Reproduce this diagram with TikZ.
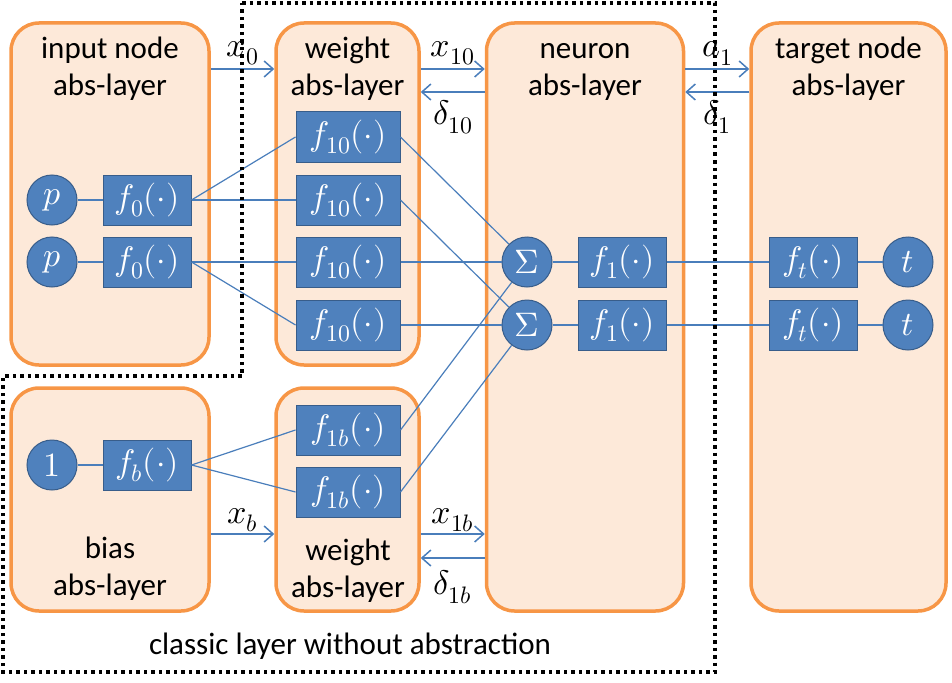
\documentclass[tikz,border=0pt]{standalone}
\usepackage{fontspec}
\usepackage{unicode-math}
\setmainfont{Carlito}
\setmathfont{Latin Modern Math}
\usepackage{tikz}
\usetikzlibrary{arrows.meta,positioning}
\definecolor{absFill}{HTML}{FDE9D9}
\definecolor{absEdge}{HTML}{F79646}
\definecolor{unitFill}{HTML}{4F81BD}
\definecolor{unitEdge}{HTML}{385D8A}
\definecolor{wireBlue}{HTML}{4A7EBB}

\begin{document}
\begin{tikzpicture}[x=1pt, y=-1pt,
    node distance=25pt,
    absbox/.style={draw=absEdge, fill=absFill, line width=3.5pt,
                   rounded corners=28pt, inner sep=0pt},
    abstitle/.style={font=\fontsize{31}{37}\selectfont, align=center},
    unitbox/.style={draw=unitEdge, fill=unitFill, text=white, line width=1pt,
                    minimum height=50pt, inner sep=0pt,
                    font=\fontsize{34}{40}\selectfont},
    fbox/.style={unitbox, minimum width=88pt},
    wbox/.style={unitbox, minimum width=104pt},
    unitcirc/.style={unitbox, circle, minimum size=50pt},
    link/.style={draw=wireBlue, line width=1.2pt},
    arr/.style={link, line width=1.5pt, -{Straight Barb[length=9pt,width=16pt]}},
    lbl/.style={font=\fontsize{34}{40}\selectfont, inner sep=0pt}]

    \useasboundingbox (0,0) rectangle (952,682);

    % abstraction layers
    \node[absbox, minimum width=198pt, minimum height=342pt] (inabs) at (110,194) {};
    \node[absbox, minimum width=143pt, minimum height=342pt] (wabs) at (347.5,194) {};
    \node[absbox, minimum width=197pt, minimum height=588pt] (nabs) at (585,317) {};
    \node[absbox, minimum width=195pt, minimum height=588pt] (tabs) at (848.5,317) {};
    \node[absbox, minimum width=198pt, minimum height=223pt] (babs) at (110,499.5) {};
    \node[absbox, minimum width=143pt, minimum height=223pt] (wbabs) at (347.5,499.5) {};

    \node[abstitle] (intitle) at (110,69) {input node\\abs-layer};
    \node[abstitle] (wtitle) at (347.5,69) {weight\\abs-layer};
    \node[abstitle] (ntitle) at (585,69) {\vphantom{dg}neuron\\abs-layer};
    \node[abstitle] (ttitle) at (848.5,69) {target node\\abs-layer};
    \node[abstitle] (btitle) at (110,569) {\vphantom{dg}bias\\abs-layer};
    \node[abstitle] (wbtitle) at (348,571) {weight\\abs-layer};
    \node[abstitle] (classic) at (350,646) {classic layer without abstraction};

    % units
    \node[unitcirc] (p1) at (52,200) {$p$};
    \node[fbox, right=of p1] (f0a) {$f_0(\cdot)$};
    \node[unitcirc] (p2) at (52,262) {$p$};
    \node[fbox, right=of p2] (f0b) {$f_0(\cdot)$};

    \node[wbox] (w1) at (348,137) {$f_{10}(\cdot)$};
    \node[wbox] (w2) at (348,200) {$f_{10}(\cdot)$};
    \node[wbox] (w3) at (348,262) {$f_{10}(\cdot)$};
    \node[wbox] (w4) at (348,325) {$f_{10}(\cdot)$};

    \node[unitcirc] (s1) at (527,262) {$\Sigma$};
    \node[fbox, right=of s1] (f1a) {$f_1(\cdot)$};
    \node[unitcirc] (s2) at (527,325) {$\Sigma$};
    \node[fbox, right=of s2] (f1b) {$f_1(\cdot)$};

    \node[fbox] (fta) at (813,262) {$f_t(\cdot)$};
    \node[unitcirc, right=of fta] (ta) {$t$};
    \node[fbox] (ftb) at (813,325) {$f_t(\cdot)$};
    \node[unitcirc, right=of ftb] (tb) {$t$};

    \node[unitcirc] (one) at (52,465) {$1$};
    \node[fbox, right=of one] (fb) {$f_b(\cdot)$};
    \node[wbox] (wb1) at (348,430) {$f_{1b}(\cdot)$};
    \node[wbox] (wb2) at (348,492) {$f_{1b}(\cdot)$};

    % wires
    \draw[link] (p1) -- (f0a);
    \draw[link] (p2) -- (f0b);
    \draw[link] (one) -- (fb);
    \draw[link] (f0a.east) -- (w1.west);
    \draw[link] (f0a.east) -- (w2.west);
    \draw[link] (f0b.east) -- (w3.west);
    \draw[link] (f0b.east) -- (w4.west);
    \draw[link] (fb.east) -- (wb1.west);
    \draw[link] (fb.east) -- (wb2.west);
    \draw[link] (w1.east) -- (s1);
    \draw[link] (w2.east) -- (s2);
    \draw[link] (w3.east) -- (s1);
    \draw[link] (w4.east) -- (s2);
    \draw[link] (wb1.east) -- (s1);
    \draw[link] (wb2.east) -- (s2);
    \draw[link] (s1) -- (f1a);
    \draw[link] (s2) -- (f1b);
    \draw[link] (f1a) -- (fta);
    \draw[link] (f1b) -- (ftb);
    \draw[link] (fta) -- (ta);
    \draw[link] (ftb) -- (tb);

    % messages between layers
    \coordinate (fwd) at (0,69);
    \coordinate (bwd) at (0,92);
    \coordinate (bfwd) at (0,534);
    \coordinate (bbwd) at (0,558);
    \draw[arr] (inabs.east |- fwd) -- node[lbl, above=3pt] (x0) {$x_0$} (wabs.west |- fwd);
    \draw[arr] (wabs.east |- fwd) -- node[lbl, above=3pt] (x10) {$x_{10}$} (nabs.west |- fwd);
    \draw[arr] (nabs.west |- bwd) -- node[lbl, below=8pt] (d10) {$\delta_{10}$} (wabs.east |- bwd);
    \draw[arr] (nabs.east |- fwd) -- node[lbl, above=3pt] (a1) {$a_1$} (tabs.west |- fwd);
    \draw[arr] (tabs.west |- bwd) -- node[lbl, below=8pt] (d1) {$\delta_1$} (nabs.east |- bwd);
    \draw[arr] (babs.east |- bfwd) -- node[lbl, above=1pt] (xb) {$x_b$} (wbabs.west |- bfwd);
    \draw[arr] (wbabs.east |- bfwd) -- node[lbl, above=1pt] (x1b) {$x_{1b}$} (nabs.west |- bfwd);
    \draw[arr] (nabs.west |- bbwd) -- node[lbl, below=12pt] (d1b) {$\delta_{1b}$} (wbabs.east |- bbwd);

    % classic layer frame
    \draw[line width=3.5pt, dash pattern=on 3.5pt off 4pt]
        (242,3) -- (715,3) -- (715,672) -- (3,672) -- (3,376) -- (242,376) -- cycle;
\end{tikzpicture}
\end{document}
